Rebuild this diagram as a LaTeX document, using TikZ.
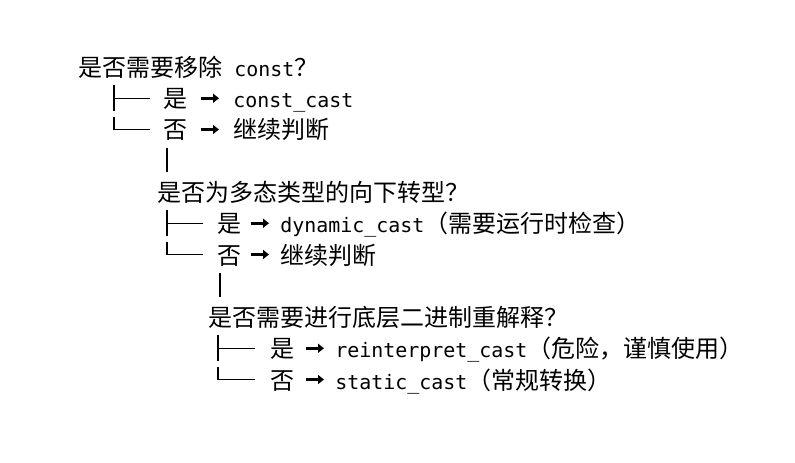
\documentclass[tikz,border=0pt]{standalone}
\usepackage{fontspec}
\setmainfont{DejaVu Sans Mono}
\newfontfamily\cjkfont[Scale=1.204]{Noto Sans CJK SC}
\usetikzlibrary{arrows.meta, positioning, calc}
\newcommand{\zh}[1]{{\cjkfont #1}}

\begin{document}
\begin{tikzpicture}[
    x=0.75pt, y=-0.75pt,
    txt/.style={anchor=base west, inner sep=0pt, text height=16.5pt, text depth=2.25pt, font=\fontsize{14.95pt}{18pt}\selectfont},
    tree/.style={line width=1pt, black},
    pick/.style={-{Triangle[length=4.5pt, width=6.75pt]}, line width=1.9pt}
]
    \fill[white] (0,0) rectangle (795,463);

    % Tree columns
    \coordinate (t1) at (114,0);
    \coordinate (t2) at (167,0);
    \coordinate (t3) at (218,0);

    % Level 1: const
    \node[txt] (q1) at (78,76.5) {\zh{是否需要移除} const\zh{？}};
    \node[txt] (yes1) at (163,107.75) {\zh{是}};
    \node[txt] (res1) at (233,107.75) {const\_cast};
    \node[txt] (no1) at (163,139) {\zh{否}};
    \node[txt] (res2) at (233,139) {\zh{继续判断}};
    \draw[pick, shorten <=9.75pt, shorten >=10.5pt] (yes1) -- (res1);
    \draw[pick, shorten <=9.75pt, shorten >=10.5pt] (no1) -- (res2);
    \draw[tree] (t1 |- yes1.north) -- (t1 |- yes1.south);
    \draw[tree] (t1 |- yes1.west) -- ($(yes1.west)+(-13,0)$);
    \draw[tree] (t1 |- no1.north) -- (t1 |- no1.west) -- ($(no1.west)+(-13,0)$);

    % Level 2: polymorphic downcast
    \node[txt] (q2) at (157,201.5) {\zh{是否为多态类型的向下转型？}};
    \draw[tree] ($(t2 |- no1.south)+(0,6)$) -- ($(t2 |- q2.north)+(0,-7.5)$);
    \node[txt] (yes2) at (217,232.75) {\zh{是}};
    \node[txt] (res3) at (280,232.75) {dynamic\_cast\zh{（需要运行时检查）}};
    \node[txt] (no2) at (217,264) {\zh{否}};
    \node[txt] (res4) at (280,264) {\zh{继续判断}};
    \draw[pick, shorten <=6.75pt, shorten >=8.25pt] (yes2) -- (res3);
    \draw[pick, shorten <=6.75pt, shorten >=8.25pt] (no2) -- (res4);
    \draw[tree] (t2 |- yes2.north) -- (t2 |- yes2.south);
    \draw[tree] (t2 |- yes2.west) -- ($(yes2.west)+(-14,0)$);
    \draw[tree] (t2 |- no2.north) -- (t2 |- no2.west) -- ($(no2.west)+(-14,0)$);

    % Level 3: reinterpret
    \node[txt] (q3) at (208,326.5) {\zh{是否需要进行底层二进制重解释？}};
    \draw[tree] ($(t2 |- no2.south)+(53,6)$) -- ($(t2 |- q3.north)+(53,-7.5)$);
    \node[txt] (yes3) at (270,357.75) {\zh{是}};
    \node[txt] (res5) at (335,357.75) {reinterpret\_cast\zh{（危险，谨慎使用）}};
    \node[txt] (no3) at (270,389) {\zh{否}};
    \node[txt] (res6) at (335,389) {static\_cast\zh{（常规转换）}};
    \draw[pick, shorten <=8.25pt, shorten >=8.25pt] (yes3) -- (res5);
    \draw[pick, shorten <=8.25pt, shorten >=8.25pt] (no3) -- (res6);
    \draw[tree] (t3 |- yes3.north) -- (t3 |- yes3.south);
    \draw[tree] (t3 |- yes3.west) -- ($(yes3.west)+(-15,0)$);
    \draw[tree] (t3 |- no3.north) -- (t3 |- no3.west) -- ($(no3.west)+(-15,0)$);
\end{tikzpicture}
\end{document}
